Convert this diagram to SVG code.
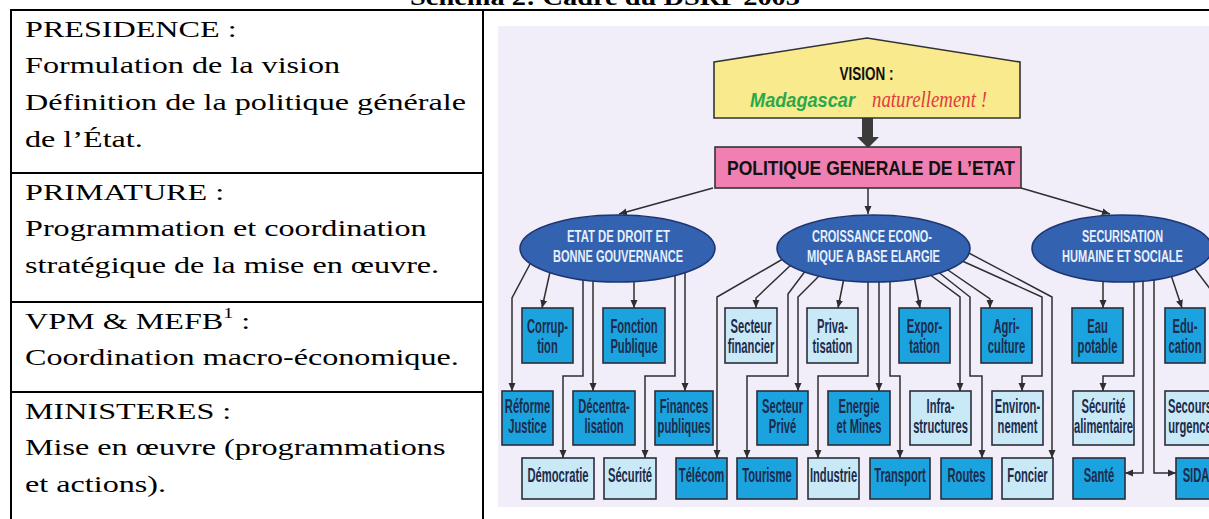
<svg xmlns="http://www.w3.org/2000/svg" width="1209" height="519" viewBox="0 0 1209 519">
<defs>
<style>
.tl{fill:none;stroke:#000;stroke-width:2}
.tt{font-family:"Liberation Serif","Times New Roman",serif;font-size:24px;fill:#000}
.ttl{font-family:"Liberation Serif","Times New Roman",serif;font-size:24px;font-weight:bold;fill:#000}
.cn{fill:none;stroke:#2e2e2e;stroke-width:1.5}
.bb{fill:#1ba3df;stroke:#2a2d3a;stroke-width:1.6}
.lb{fill:#c9e9f7;stroke:#2a2d3a;stroke-width:1.6}
.bt{font-family:"Liberation Sans",Arial,sans-serif;font-weight:bold;font-size:20px;fill:#1d2b4c;text-anchor:middle}
.el{fill:#3262b0;stroke:#1f3570;stroke-width:1.6}
.et{font-family:"Liberation Sans",Arial,sans-serif;font-weight:bold;font-size:16px;fill:#e8effc;text-anchor:middle}
</style>
<marker id="ah" markerWidth="8" markerHeight="8" refX="8" refY="4" orient="auto" markerUnits="userSpaceOnUse"><path d="M0,0.5 L8,4 L0,7.5 z" fill="#2e2e2e"/></marker>
</defs>
<rect width="1209" height="519" fill="#fff"/>
<text class="ttl" x="410" y="5" textLength="390" lengthAdjust="spacingAndGlyphs">Schéma 2: Cadre du DSRP 2003</text>
<g id="table">
<line class="tl" x1="10" y1="10" x2="1209" y2="10"/>
<line class="tl" x1="11" y1="9" x2="11" y2="519"/>
<line class="tl" x1="483" y1="9" x2="483" y2="519"/>
<line class="tl" x1="11" y1="173" x2="483" y2="173"/>
<line class="tl" x1="11" y1="302" x2="483" y2="302"/>
<line class="tl" x1="11" y1="392" x2="483" y2="392"/>
</g>
<g id="row-presidence"><text class="tt" transform="translate(25,36.5) scale(1.34,1)"><tspan x="0" y="0">PRESIDENCE :</tspan><tspan x="0" y="36.7">Formulation de la vision</tspan><tspan x="0" y="73.4">Définition de la politique générale</tspan><tspan x="0" y="110.1">de l’État.</tspan></text></g>
<g id="row-primature"><text class="tt" transform="translate(25,199.5) scale(1.34,1)"><tspan x="0" y="0">PRIMATURE :</tspan><tspan x="0" y="36.7">Programmation et coordination</tspan><tspan x="0" y="73.4">stratégique de la mise en œuvre.</tspan></text></g>
<g id="row-vpm"><text class="tt" transform="translate(25,328.5) scale(1.34,1)"><tspan x="0" y="0">VPM &amp; MEFB</tspan><tspan font-size="15" dy="-11">1</tspan><tspan dy="11"> :</tspan><tspan x="0" y="36.7">Coordination macro-économique.</tspan></text></g>
<g id="row-ministeres"><text class="tt" transform="translate(25,418.5) scale(1.34,1)"><tspan x="0" y="0">MINISTERES :</tspan><tspan x="0" y="36.7">Mise en œuvre (programmations</tspan><tspan x="0" y="73.4">et actions).</tspan></text></g>

<rect id="diagram-bg" x="498" y="26" width="711" height="481" fill="#f1eefa"/>

<g id="connectors">
<polygon points="862,118 873,118 873,137 879,137 868,148 857,137 862,137" fill="#3b3b3b"/>
<g class="cn" marker-end="url(#ah)">
<path d="M713,188 L619,214"/>
<path d="M868,188 L868,214"/>
<path d="M1021,188 L1110,214"/>
<path d="M530,264 L512,298 L512,391"/>
<path d="M550,272 L542,308"/>
<path d="M583,274 L583,376 L563,376 L563,458"/>
<path d="M593,276 L593,391"/>
<path d="M634,276 L634,308"/>
<path d="M675,272 L675,376 L645,376 L645,458"/>
<path d="M685,268 L685,391"/>
<path d="M788,256 L717,297 L717,458"/>
<path d="M793,263 L756,298 L756,308"/>
<path d="M806,270 L788,294 L788,376 L747,376 L747,458"/>
<path d="M820,275 L798,297 L798,391"/>
<path d="M844,278 L838,308"/>
<path d="M868,278 L868,376 L818,376 L818,458"/>
<path d="M879,278 L879,391"/>
<path d="M890,277 L890,376 L900,376 L900,458"/>
<path d="M914,276 L920,308"/>
<path d="M929,274 L960,297 L960,391"/>
<path d="M937,271 L970,297 L970,376 L982,376 L982,458"/>
<path d="M945,268 L990,299 L990,308"/>
<path d="M960,260 L1042,297 L1042,376 L1022,376 L1022,391"/>
<path d="M965,251 L1052,297 L1052,458"/>
<path d="M1103,276 L1103,308"/>
<path d="M1134,276 L1134,376 L1103,376 L1103,391"/>
<path d="M1143,276 L1143,473 L1125,473"/>
<path d="M1154,276 L1154,473 L1176,473"/>
<path d="M1170,272 L1182,308"/>
</g>
<path class="cn" d="M1192,265 L1220,302"/>
</g>

<g id="n-vision">
<polygon points="714,62 867,38 1020,62 1020,118 714,118" fill="#f9ea8e" stroke="#333" stroke-width="1.6"/>
<text x="866.5" y="80" text-anchor="middle" font-family="Liberation Sans, Arial, sans-serif" font-weight="bold" font-size="18" fill="#111" textLength="54" lengthAdjust="spacingAndGlyphs">VISION :</text>
<text x="750" y="107" font-family="Liberation Sans, Arial, sans-serif" font-weight="bold" font-style="italic" font-size="21" fill="#2aa84a" textLength="105" lengthAdjust="spacingAndGlyphs">Madagascar</text>
<text x="872" y="107" font-family="Liberation Serif, Times New Roman, serif" font-style="italic" font-size="23" fill="#e2393c" textLength="115" lengthAdjust="spacingAndGlyphs">naturellement !</text>
</g>
<g id="n-politique">
<rect x="715" y="147" width="306" height="41" fill="#ef80b1" stroke="#333" stroke-width="1.6"/>
<text x="871" y="175" text-anchor="middle" font-family="Liberation Sans, Arial, sans-serif" font-weight="bold" font-size="21" fill="#111" textLength="288" lengthAdjust="spacingAndGlyphs">POLITIQUE GENERALE DE L’ETAT</text>
</g>
<g id="n-etat-droit">
<ellipse class="el" cx="617.5" cy="248.5" rx="97.5" ry="33.5"/>
<text class="et" x="618.5" y="242" textLength="103" lengthAdjust="spacingAndGlyphs">ETAT DE DROIT ET</text>
<text class="et" x="618" y="262" textLength="130" lengthAdjust="spacingAndGlyphs">BONNE GOUVERNANCE</text>
</g>
<g id="n-croissance">
<ellipse class="el" cx="873.5" cy="248.5" rx="96.5" ry="33.5"/>
<text class="et" x="872" y="242" textLength="120" lengthAdjust="spacingAndGlyphs">CROISSANCE ECONO-</text>
<text class="et" x="873.5" y="262" textLength="133" lengthAdjust="spacingAndGlyphs">MIQUE A BASE ELARGIE</text>
</g>
<g id="n-securisation">
<ellipse class="el" cx="1122" cy="248.5" rx="90" ry="33.5"/>
<text class="et" x="1122.5" y="242" textLength="81" lengthAdjust="spacingAndGlyphs">SECURISATION</text>
<text class="et" x="1122.5" y="262" textLength="121" lengthAdjust="spacingAndGlyphs">HUMAINE ET SOCIALE</text>
</g>

<g id="n-corruption"><rect class="bb" x="522" y="308" width="51" height="55"/><text class="bt" transform="translate(547.5,333) scale(0.56,1)"><tspan x="0">Corrup-</tspan><tspan x="0" dy="20">tion</tspan></text></g>
<g id="n-fonction"><rect class="bb" x="603" y="308" width="62" height="55"/><text class="bt" transform="translate(634,333) scale(0.56,1)"><tspan x="0">Fonction</tspan><tspan x="0" dy="20">Publique</tspan></text></g>
<g id="n-secteur-fin"><rect class="lb" x="725" y="308" width="52" height="55"/><text class="bt" transform="translate(751,333) scale(0.56,1)"><tspan x="0">Secteur</tspan><tspan x="0" dy="20">financier</tspan></text></g>
<g id="n-privatisation"><rect class="lb" x="807" y="308" width="51" height="55"/><text class="bt" transform="translate(832.5,333) scale(0.56,1)"><tspan x="0">Priva-</tspan><tspan x="0" dy="20">tisation</tspan></text></g>
<g id="n-exportation"><rect class="bb" x="899" y="308" width="51" height="55"/><text class="bt" transform="translate(924.5,333) scale(0.56,1)"><tspan x="0">Expor-</tspan><tspan x="0" dy="20">tation</tspan></text></g>
<g id="n-agriculture"><rect class="bb" x="981" y="308" width="51" height="55"/><text class="bt" transform="translate(1006.5,333) scale(0.56,1)"><tspan x="0">Agri-</tspan><tspan x="0" dy="20">culture</tspan></text></g>
<g id="n-eau"><rect class="bb" x="1072" y="308" width="51" height="55"/><text class="bt" transform="translate(1097.5,333) scale(0.56,1)"><tspan x="0">Eau</tspan><tspan x="0" dy="20">potable</tspan></text></g>
<g id="n-education"><rect class="bb" x="1165" y="308" width="40" height="55"/><text class="bt" transform="translate(1185,333) scale(0.56,1)"><tspan x="0">Edu-</tspan><tspan x="0" dy="20">cation</tspan></text></g>

<g id="n-reforme"><rect class="bb" x="502" y="391" width="51" height="54"/><text class="bt" transform="translate(527.5,413) scale(0.56,1)"><tspan x="0">Réforme</tspan><tspan x="0" dy="20">Justice</tspan></text></g>
<g id="n-decentra"><rect class="bb" x="573" y="391" width="62" height="54"/><text class="bt" transform="translate(604,413) scale(0.56,1)"><tspan x="0">Décentra-</tspan><tspan x="0" dy="20">lisation</tspan></text></g>
<g id="n-finances"><rect class="bb" x="655" y="391" width="58" height="54"/><text class="bt" transform="translate(684,413) scale(0.56,1)"><tspan x="0">Finances</tspan><tspan x="0" dy="20">publiques</tspan></text></g>
<g id="n-secteur-prive"><rect class="bb" x="757" y="391" width="51" height="54"/><text class="bt" transform="translate(782.5,413) scale(0.56,1)"><tspan x="0">Secteur</tspan><tspan x="0" dy="20">Privé</tspan></text></g>
<g id="n-energie"><rect class="bb" x="828" y="391" width="62" height="54"/><text class="bt" transform="translate(859,413) scale(0.56,1)"><tspan x="0">Energie</tspan><tspan x="0" dy="20">et Mines</tspan></text></g>
<g id="n-infra"><rect class="lb" x="910" y="391" width="61" height="54"/><text class="bt" transform="translate(940.5,413) scale(0.56,1)"><tspan x="0">Infra-</tspan><tspan x="0" dy="20">structures</tspan></text></g>
<g id="n-environ"><rect class="lb" x="992" y="391" width="51" height="54"/><text class="bt" transform="translate(1017.5,413) scale(0.56,1)"><tspan x="0">Environ-</tspan><tspan x="0" dy="20">nement</tspan></text></g>
<g id="n-secu-alim"><rect class="lb" x="1073" y="391" width="61" height="54"/><text class="bt" transform="translate(1103.5,413) scale(0.56,1)"><tspan x="0">Sécurité</tspan><tspan x="0" dy="20">alimentaire</tspan></text></g>
<g id="n-secours"><rect class="lb" x="1165" y="391" width="60" height="54"/><text class="bt" transform="translate(1190,413) scale(0.56,1)"><tspan x="0">Secours</tspan><tspan x="0" dy="20">urgence</tspan></text></g>

<g id="n-democratie"><rect class="lb" x="522" y="458" width="72" height="41"/><text class="bt" transform="translate(558,482) scale(0.56,1)">Démocratie</text></g>
<g id="n-securite"><rect class="lb" x="604" y="458" width="52" height="41"/><text class="bt" transform="translate(630,482) scale(0.56,1)">Sécurité</text></g>
<g id="n-telecom"><rect class="bb" x="676" y="458" width="51" height="41"/><text class="bt" transform="translate(701.5,482) scale(0.56,1)">Télécom</text></g>
<g id="n-tourisme"><rect class="bb" x="737" y="458" width="60" height="41"/><text class="bt" transform="translate(767,482) scale(0.56,1)">Tourisme</text></g>
<g id="n-industrie"><rect class="lb" x="808" y="458" width="51" height="41"/><text class="bt" transform="translate(833.5,482) scale(0.56,1)">Industrie</text></g>
<g id="n-transport"><rect class="bb" x="870" y="458" width="60" height="41"/><text class="bt" transform="translate(900,482) scale(0.56,1)">Transport</text></g>
<g id="n-routes"><rect class="bb" x="941" y="458" width="51" height="41"/><text class="bt" transform="translate(966.5,482) scale(0.56,1)">Routes</text></g>
<g id="n-foncier"><rect class="lb" x="1002" y="458" width="51" height="41"/><text class="bt" transform="translate(1027.5,482) scale(0.56,1)">Foncier</text></g>
<g id="n-sante"><rect class="bb" x="1073" y="458" width="52" height="41"/><text class="bt" transform="translate(1099,482) scale(0.56,1)">Santé</text></g>
<g id="n-sida"><rect class="bb" x="1176" y="458" width="50" height="41"/><text class="bt" transform="translate(1196,482) scale(0.56,1)">SIDA</text></g>
</svg>
